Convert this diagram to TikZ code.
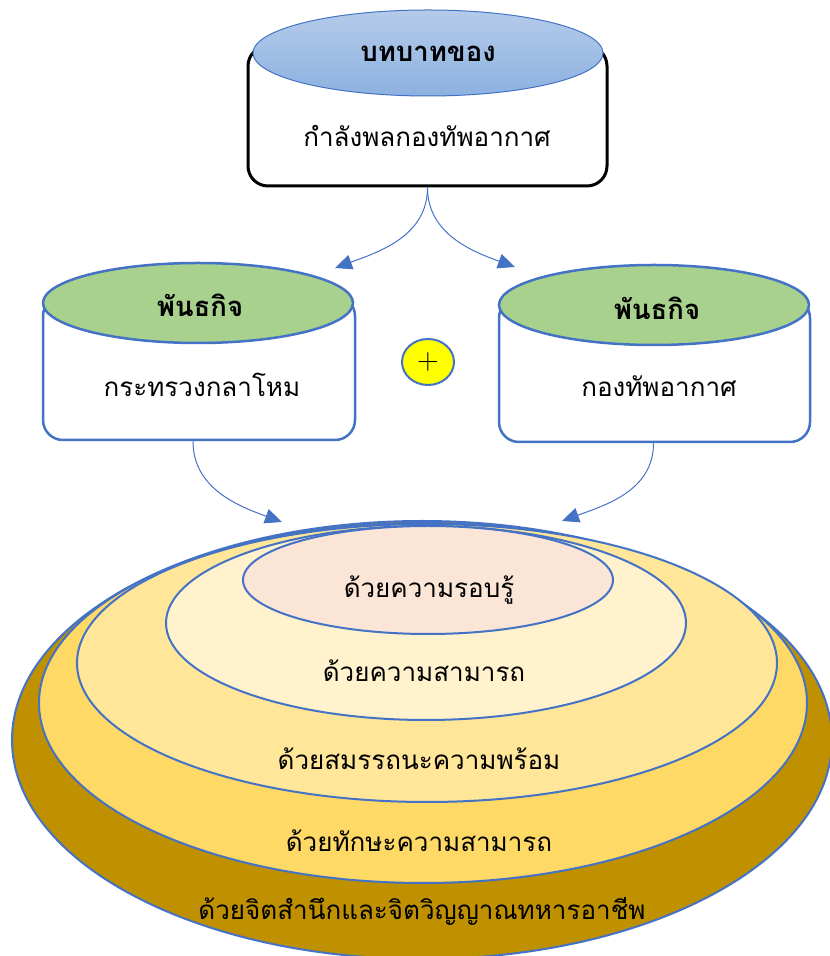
\documentclass[tikz,border=0pt]{standalone}
\usepackage{fontspec}
\newfontfamily\thaifont[Script=Thai]{Loma}
\usetikzlibrary{shapes.geometric,arrows.meta}
\definecolor{accent}{HTML}{4472C4}
\definecolor{blueTop}{HTML}{B4CBEA}
\definecolor{blueBot}{HTML}{8DB1E0}
\definecolor{greenFill}{HTML}{A9D18E}
\definecolor{goldDark}{HTML}{BF9000}
\definecolor{goldMid}{HTML}{FFD966}
\definecolor{goldLight}{HTML}{FFE699}
\definecolor{creamFill}{HTML}{FFF2CC}
\definecolor{peachFill}{HTML}{FBE5D6}
\definecolor{plusYellow}{HTML}{FFFF00}
\tikzset{
  lbl/.style={font=\thaifont\fontsize{26}{30}\selectfont, inner sep=0pt, anchor=base, text=black},
  hlbl/.style={font=\thaifont\bfseries\fontsize{27.5}{30}\selectfont, inner sep=0pt, anchor=base, text=black},
  ring/.style={ellipse, draw=accent, line width=2pt, inner sep=0pt},
  cylbox/.style={rectangle, draw=accent, line width=2.5pt, rounded corners=20pt, fill=white, inner sep=0pt},
  conn/.style={draw=accent, line width=1pt, -{Triangle[length=17pt,width=15pt]}},
}
\begin{document}
\begin{tikzpicture}[x=1pt,y=1pt]
\useasboundingbox (0,0) rectangle (830,956);
% top box
\node[rectangle, draw=black, line width=3pt, rounded corners=20pt, fill=white,
      minimum width=359, minimum height=140, inner sep=0pt] (topbox) at (427.5,840) {};
\node[ellipse, draw=accent, line width=1pt, top color=blueTop, bottom color=blueBot,
      minimum width=350, minimum height=86, inner sep=0pt] (topcap) at (428,903) {};
\node[hlbl] (toptitle) at (428,894) {บทบาทของ};
\node[lbl] (toptext) at (427,809) {กำลังพลกองทัพอากาศ};
% left box
\node[cylbox, minimum width=312, minimum height=144] (lbox) at (199,588) {};
\node[ellipse, draw=accent, line width=2.5pt, fill=greenFill,
      minimum width=310, minimum height=80, inner sep=0pt] (lcap) at (198,653) {};
\node[hlbl] (ltitle) at (200,639) {พันธกิจ};
\node[lbl] (ltext) at (202,559) {กระทรวงกลาโหม};
% right box
\node[cylbox, minimum width=311, minimum height=144] (rbox) at (654.5,586) {};
\node[ellipse, draw=accent, line width=2.5pt, fill=greenFill,
      minimum width=310, minimum height=80, inner sep=0pt] (rcap) at (654,651) {};
\node[hlbl] (rtitle) at (657,636) {พันธกิจ};
\node[lbl] (rtext) at (659,559) {กองทัพอากาศ};
% plus
\node[ellipse, draw=accent, line width=2pt, fill=plusYellow,
      minimum width=52, minimum height=46, inner sep=0pt,
      font=\fontsize{30}{30}\selectfont] (plus) at (428,594) {+};
% connectors
\coordinate (tipL) at (335,688);
\coordinate (tipR) at (515,689);
\coordinate (tipLL) at (282,434);
\coordinate (tipRR) at (562,435);
\draw[conn] (topbox.south) to[out=-90,in=20] (tipL);
\draw[conn] (topbox.south) to[out=-90,in=160] (tipR);
\draw[conn] ([xshift=-6pt]lbox.south) to[out=-90,in=160] (tipLL);
\draw[conn] ([xshift=-1pt]rbox.south) to[out=-90,in=20] (tipRR);
% rings
\node[ring, fill=goldDark, minimum width=820, minimum height=438] (e1) at (422,216) {};
\node[ring, fill=goldMid, minimum width=768, minimum height=360] (e2) at (423,253) {};
\node[ring, fill=goldLight, minimum width=700, minimum height=278] (e3) at (427,293) {};
\node[ring, fill=creamFill, minimum width=520, minimum height=194] (e4) at (426,333) {};
\node[ring, fill=peachFill, minimum width=370, minimum height=108] (e5) at (428,376) {};
\node[lbl] (t5) at (429,358) {ด้วยความรอบรู้};
\node[lbl] (t4) at (424,274) {ด้วยความสามารถ};
\node[lbl] (t3) at (419,186) {ด้วยสมรรถนะความพร้อม};
\node[lbl] (t2) at (419,104) {ด้วยทักษะความสามารถ};
\node[lbl] (t1) at (422,36) {ด้วยจิตสำนึกและจิตวิญญาณทหารอาชีพ};
\end{tikzpicture}
\end{document}
